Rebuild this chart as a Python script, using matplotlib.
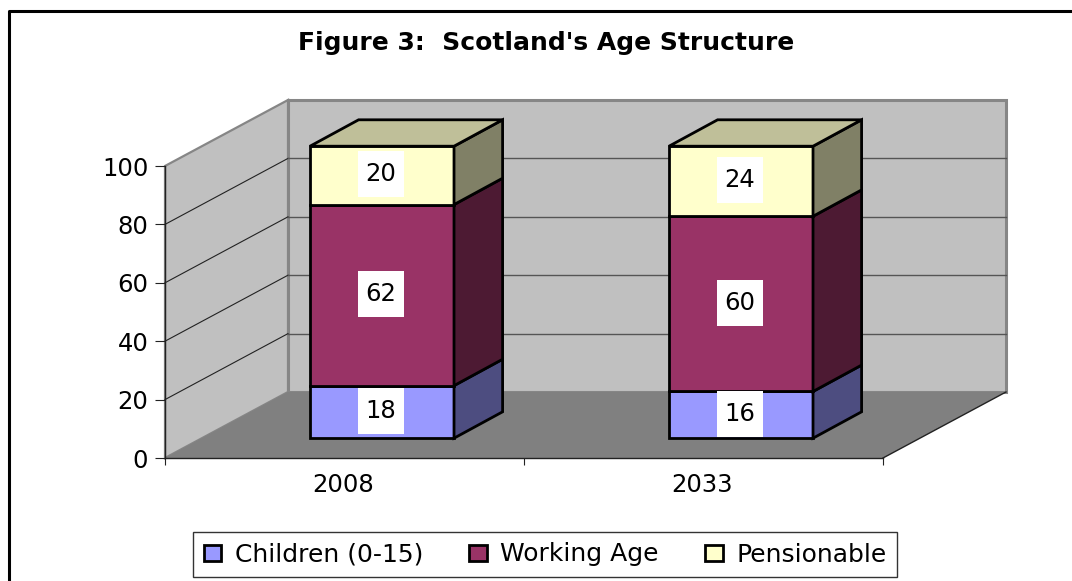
import matplotlib
matplotlib.use("Agg")
import matplotlib.pyplot as plt
from matplotlib.lines import Line2D
from matplotlib.patches import Patch, Polygon, Rectangle

plt.rcParams["font.family"] = ["DejaVu Sans"]

years = ["2008", "2033"]
series_names = ["Children (0-15)", "Working Age", "Pensionable"]
children = [18, 16]
working_age = [62, 60]
pensionable = [20, 24]
y_ticks = [0, 20, 40, 60, 80, 100]

front_colors = ["#9999ff", "#993366", "#ffffcc"]
side_colors = ["#4d4d80", "#4d1a33", "#808066"]
top_color = "#bfbf99"
WIDTH, HEIGHT = 1072, 581

# shift of the back wall, in data units (1 category = 359 px, 1 unit = 2.92 px)
DEPTH_X = 123 / 359
DEPTH_Y = 66 / 2.92


def shift(x, y, depth):
    return (x + depth * DEPTH_X, y + depth * DEPTH_Y)


fig = plt.figure(figsize=(WIDTH / 100, HEIGHT / 100), dpi=100)
ax = fig.add_axes([165 / WIDTH, (HEIGHT - 458) / HEIGHT, 718 / WIDTH, 292 / HEIGHT])
ax.set_xlim(0, 2)
ax.set_ylim(0, 100)
ax.patch.set_visible(False)

# walls and floor
grey = "#868686"
ax.add_patch(Polygon([shift(0, 0, 1), shift(2, 0, 1), shift(2, 100, 1), shift(0, 100, 1)],
                     fc="#c0c0c0", ec=grey, lw=2.2, clip_on=False, zorder=1))
ax.add_patch(Polygon([(0, 0), shift(0, 0, 1), shift(0, 100, 1), (0, 100)],
                     fc="#c0c0c0", ec=grey, lw=1.6, clip_on=False, zorder=1))
ax.add_patch(Polygon([(0, 0), (2, 0), shift(2, 0, 1), shift(0, 0, 1)],
                     fc="#808080", ec="none", clip_on=False, zorder=1.5))
ax.plot(*zip((2, 0), shift(2, 0, 1)), color="#222222", lw=1, clip_on=False, zorder=1.6)

# gridlines, side wall then back wall
for v in y_ticks[1:-1]:
    ax.plot(*zip((0, v), shift(0, v, 1)), color="#222222", lw=0.8, clip_on=False, zorder=1.6)
    ax.plot(*zip(shift(0, v, 1), shift(2, v, 1)), color="#555555", lw=1, clip_on=False, zorder=1.6)

# stacked bars
centers = [0.5, 1.5]
bar_w = 144 / 359
d0, d1 = 0.305, 0.70
for i, c in enumerate(centers):
    x0 = c - bar_w / 2
    x1 = c + bar_w / 2
    bottom = 0
    for vals, fc, sc in zip([children, working_age, pensionable], front_colors, side_colors):
        v = vals[i]
        base = bottom + 0.30 * DEPTH_Y
        ax.bar(x0 + d0 * DEPTH_X, v, width=bar_w, bottom=base, align="edge", color=fc,
               edgecolor="black", lw=2, clip_on=False, zorder=3)
        ax.add_patch(Polygon([(x1 + d0 * DEPTH_X, base), shift(x1, bottom, d1),
                              shift(x1, bottom + v, d1), (x1 + d0 * DEPTH_X, base + v)],
                             fc=sc, ec="black", lw=2, clip_on=False, zorder=3))
        # white label box
        cx = c + d0 * DEPTH_X - 0.003
        cy = base + v / 2 + 0.4
        ax.add_patch(Rectangle((cx - 23 / 359, cy - 23 / 2.92), 46 / 359, 46 / 2.92,
                               fc="white", ec="none", zorder=4, clip_on=False))
        ax.text(cx, cy, str(v), ha="center", va="center", fontsize=17.5, zorder=5)
        bottom += v
    top = bottom + 0.30 * DEPTH_Y
    ax.add_patch(Polygon([(x0 + d0 * DEPTH_X, top), (x1 + d0 * DEPTH_X, top),
                          shift(x1, bottom, d1), shift(x0, bottom, d1)],
                         fc=top_color, ec="black", lw=2, clip_on=False, zorder=3))

# axes
for s in ["top", "right"]:
    ax.spines[s].set_visible(False)
for s in ["left", "bottom"]:
    ax.spines[s].set_color("#222222")
    ax.spines[s].set_linewidth(1)
    ax.spines[s].set_zorder(2)
ax.set_yticks(y_ticks)
ax.tick_params(axis="y", labelsize=17.5, length=7, width=0.8, color="#222222", pad=5)
ax.set_xticks([0, 1, 2])
ax.set_xticklabels([])
ax.set_xticks([c - 0.005 for c in centers], years, minor=True)
ax.tick_params(axis="x", which="major", length=5, width=0.8, color="#222222")
ax.tick_params(axis="x", which="minor", length=0, labelsize=17.5, pad=11)

fig.text(546 / WIDTH, 1 - 43 / HEIGHT, "Figure 3:  Scotland's Age Structure",
         ha="center", va="center", fontsize=18, fontweight="bold")

handles = [Patch(fc=c, ec="black", lw=2) for c in front_colors]
leg = fig.legend(handles, series_names, loc="lower left",
                 bbox_to_anchor=(193 / WIDTH, 1 - 577 / HEIGHT, 704 / WIDTH, 43 / HEIGHT),
                 mode="expand", ncol=3, fontsize=18, fancybox=False, framealpha=1,
                 edgecolor="#333333", borderaxespad=0, handlelength=0.7, handleheight=0.6,
                 handletextpad=0.55, columnspacing=0.6, borderpad=0.42)
leg.get_frame().set_linewidth(1)

# outer chart border, only top and left are in the picture
fig.add_artist(Line2D([9 / WIDTH, 9 / WIDTH, 1], [0, 1 - 11 / HEIGHT, 1 - 11 / HEIGHT],
                      color="black", lw=2.2))

fig.savefig("out.png", dpi=100)
